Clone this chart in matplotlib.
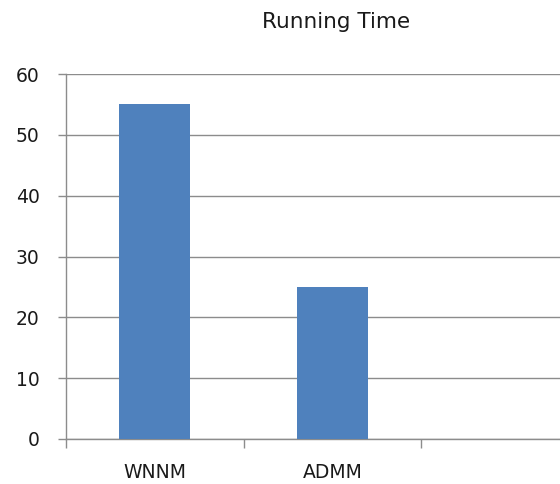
import matplotlib
matplotlib.use("Agg")
import matplotlib.pyplot as plt
import numpy as np

categories = ["WNNM", "ADMM", ""]
values = [55, 25, None]
yticks = [0, 10, 20, 30, 40, 50, 60]
title = "Running Time"

plt.rcParams['font.family'] = ['DejaVu Sans']

fig = plt.figure(figsize=(5.6, 4.84), dpi=100)
ax = fig.add_axes([66/560, (484-439)/484, (599-66)/560, (439-74)/484])

x = np.arange(len(categories))
xs = [xi for xi, v in zip(x, values) if v is not None]
vs = [v for v in values if v is not None]
ax.bar(xs, vs, width=0.4, color="#4F81BD", zorder=3)

ax.set_xlim(-0.5, len(categories) - 0.5)
ax.set_ylim(0, 60)
ax.set_yticks(yticks)
ax.yaxis.grid(True, color="#8C8C8C", linewidth=1.0, zorder=0)
ax.set_axisbelow(True)

for s in ["top", "right"]:
    ax.spines[s].set_visible(False)
for s in ["left", "bottom"]:
    ax.spines[s].set_color("#8C8C8C")
    ax.spines[s].set_linewidth(1.0)

ax.tick_params(axis="y", length=6, width=1, color="#8C8C8C", pad=13, labelsize=13.5, labelcolor="#1a1a1a")
ax.set_xticks(np.arange(len(categories) + 1) - 0.5)
ax.set_xticklabels([])
ax.tick_params(axis="x", which="major", length=6.5, width=1, color="#8C8C8C")
ax.set_xticks(x, minor=True)
ax.set_xticklabels(categories, minor=True)
ax.tick_params(axis="x", which="minor", length=0, pad=17, labelsize=13.5, labelcolor="#1a1a1a")

ax.set_title(title, fontsize=15.5, color="#1a1a1a", pad=33, x=0.507)

fig.savefig("out.png", dpi=100)
